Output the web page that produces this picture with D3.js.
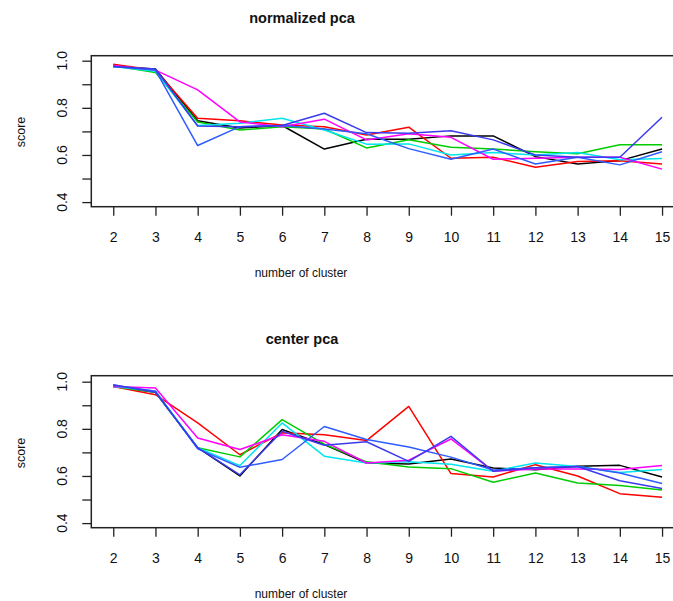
<!DOCTYPE html>
<html lang="en">
<head>
  <meta charset="UTF-8">
  <title>normalized pca / center pca</title>
  <style>
    * {
      margin: 0;
      padding: 0;
    }

    body {
      background-color: #fff;
      font-family: "Liberation Sans", Arial, sans-serif;
    }

    .frame {
      fill: none;
      stroke: #222;
      stroke-width: 1.5;
    }

    .tick line {
      stroke: #222;
      stroke-width: 1.3;
    }

    .domain {
      display: none;
    }

    .series {
      fill: none;
      stroke-width: 1.5;
      stroke-linejoin: round;
    }
  </style>
</head>

<body>
  <div id="chart"></div>

  <script src="https://cdnjs.cloudflare.com/ajax/libs/d3/7.8.5/d3.min.js"></script>

  <script>
    // number of clusters on the x axis
    var clusters = [2, 3, 4, 5, 6, 7, 8, 9, 10, 11, 12, 13, 14, 15];
    var yTicks = [0.4, 0.5, 0.6, 0.7, 0.8, 0.9, 1.0];
    var yLabels = [0.4, 0.6, 0.8, 1.0];

    // normalized pca
    var normBlack = [0.975, 0.965, 0.745, 0.714, 0.725, 0.625, 0.667, 0.667, 0.681, 0.681, 0.593, 0.562, 0.576, 0.625];
    var normRed = [0.985, 0.96, 0.756, 0.745, 0.727, 0.72, 0.685, 0.718, 0.586, 0.59, 0.548, 0.572, 0.575, 0.562];
    var normGreen = [0.978, 0.95, 0.74, 0.706, 0.72, 0.71, 0.63, 0.665, 0.633, 0.625, 0.614, 0.605, 0.643, 0.643];
    var normBlue = [0.975, 0.965, 0.723, 0.72, 0.725, 0.777, 0.695, 0.692, 0.703, 0.664, 0.6, 0.59, 0.59, 0.76];
    var normCyan = [0.975, 0.955, 0.725, 0.735, 0.756, 0.706, 0.646, 0.647, 0.6, 0.61, 0.6, 0.61, 0.58, 0.585];
    var normMagenta = [0.98, 0.96, 0.876, 0.74, 0.72, 0.752, 0.664, 0.69, 0.675, 0.582, 0.586, 0.59, 0.59, 0.54];
    var normBlue2 = [0.975, 0.96, 0.64, 0.72, 0.725, 0.71, 0.69, 0.627, 0.582, 0.625, 0.562, 0.59, 0.558, 0.614];

    // center pca
    var centBlack = [0.98, 0.955, 0.72, 0.6, 0.797, 0.733, 0.655, 0.651, 0.672, 0.634, 0.626, 0.641, 0.645, 0.596];
    var centRed = [0.98, 0.945, 0.825, 0.69, 0.783, 0.775, 0.75, 0.895, 0.61, 0.596, 0.648, 0.6, 0.525, 0.51];
    var centGreen = [0.98, 0.955, 0.72, 0.681, 0.839, 0.735, 0.66, 0.638, 0.631, 0.573, 0.613, 0.57, 0.56, 0.54];
    var centBlue = [0.987, 0.955, 0.72, 0.605, 0.79, 0.73, 0.745, 0.662, 0.768, 0.62, 0.635, 0.64, 0.58, 0.547];
    var centCyan = [0.98, 0.96, 0.72, 0.644, 0.825, 0.684, 0.655, 0.66, 0.65, 0.62, 0.655, 0.64, 0.615, 0.627];
    var centMagenta = [0.98, 0.973, 0.761, 0.712, 0.775, 0.747, 0.655, 0.667, 0.757, 0.62, 0.63, 0.63, 0.627, 0.644];
    var centBlue2 = [0.985, 0.96, 0.715, 0.637, 0.67, 0.81, 0.755, 0.723, 0.68, 0.625, 0.635, 0.64, 0.613, 0.568];

    var panels = [
      { title: 'normalized pca', top: 0, series: [normBlack, normRed, normGreen, normCyan, normMagenta, normBlue2, normBlue] },
      { title: 'center pca', top: 321, series: [centBlack, centRed, centGreen, centCyan, centMagenta, centBlue2, centBlue] }
    ];
    var panelColors = ['#000000', '#ff0000', '#00cd00', '#00e5ee', '#ff00ff', '#2f5cff', '#3a3aee'];

    var width = 673,
      height = 601,
      left = 91.3,
      right = 684,
      frameTop = 55.7,
      frameBottom = 206.7;

    var svg = d3.select('#chart').append('svg')
      .attr('width', width)
      .attr('height', height);

    // R style: 4% padding on the data range
    var xScale = d3.scaleLinear()
      .domain([1.48, 15.52])
      .range([left, right]);

    panels.forEach(function(p, pi) {
      var g = svg.append('g').attr('transform', 'translate(0,' + p.top + ')');
      var top = pi === 0 ? frameTop : frameTop - 1;

      var yScale = d3.scaleLinear()
        .domain([0.3805, 1.0 + (60.7 - top) / 236])
        .range([frameBottom, top]);

      g.append('text')
        .attr('x', 302)
        .attr('y', 23)
        .attr('text-anchor', 'middle')
        .style('font-weight', 'bold')
        .style('font-size', '14.5px')
        .style('fill', '#111')
        .text(p.title);

      var line = d3.line()
        .x(function(d, i) { return xScale(clusters[i]); })
        .y(function(d) { return yScale(d); });

      g.selectAll('path.series')
        .data(p.series)
        .enter()
        .append('path')
        .attr('class', 'series')
        .attr('d', line)
        .style('stroke', function(d, i) { return panelColors[i]; });

      g.append('rect')
        .attr('class', 'frame')
        .attr('x', left)
        .attr('y', top)
        .attr('width', right - left)
        .attr('height', frameBottom - top);

      var xAxis = d3.axisBottom(xScale)
        .tickValues(clusters)
        .tickSize(9)
        .tickPadding(16)
        .tickFormat(d3.format('d'));

      var xg = g.append('g')
        .attr('transform', 'translate(0,' + frameBottom + ')')
        .call(xAxis);
      xg.selectAll('text')
        .style('font-size', '14px')
        .style('font-family', '"Liberation Sans", Arial, sans-serif')
        .style('fill', '#111');

      var yAxis = d3.axisLeft(yScale)
        .tickValues(yTicks)
        .tickSize(9)
        .tickFormat('');

      g.append('g')
        .attr('transform', 'translate(' + left + ',0)')
        .call(yAxis);

      g.selectAll('text.ylab')
        .data(yLabels)
        .enter()
        .append('text')
        .attr('class', 'ylab')
        .attr('transform', function(d) { return 'translate(62,' + yScale(d) + ') rotate(-90)'; })
        .attr('text-anchor', 'middle')
        .attr('dominant-baseline', 'central')
        .style('font-size', '14px')
        .style('fill', '#111')
        .text(function(d) { return d3.format('.1f')(d); });

      g.append('text')
        .attr('transform', 'translate(21,132) rotate(-90)')
        .attr('text-anchor', 'middle')
        .attr('dominant-baseline', 'central')
        .style('font-size', '12.5px')
        .style('fill', '#111')
        .text('score');

      g.append('text')
        .attr('x', 301)
        .attr('y', 277)
        .attr('text-anchor', 'middle')
        .style('font-size', '12px')
        .style('fill', '#111')
        .text('number of cluster');
    });
  </script>
</body>

</html>
